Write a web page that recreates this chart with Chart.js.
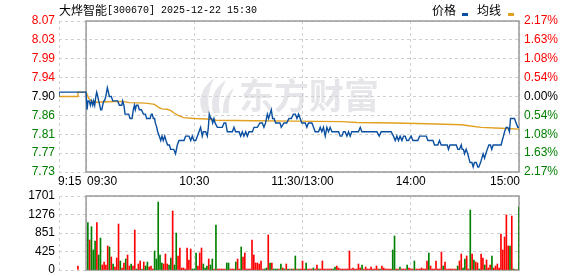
<!DOCTYPE html>
<html>
<head>
<meta charset="utf-8">
<script src="https://cdn.jsdelivr.net/npm/chart.js@4.4.1/dist/chart.umd.min.js"></script>
<style>
  body { margin: 0; background: #fff; }
  #wrap { position: relative; width: 578px; height: 276px; overflow: hidden; }
  canvas { position: absolute; left: 0; }
</style>
</head>
<body>
<div id="wrap">
  <canvas id="price-chart" width="578" height="190" style="top:0"></canvas>
  <canvas id="volume-chart" width="578" height="110" style="top:176px"></canvas>
</div>
<script>
// ---- data ----
const stockName = "大烨智能"
const stockInfo = "[300670] 2025-12-22 15:30"
const legendLabels = ["价格", "均线"]
const watermarkText = "东方财富"

const prevClose = 7.90
const priceMin = 7.7286
const priceMax = 8.0714
// top to bottom, as printed
const priceTickLabels = ["8.07", "8.03", "7.99", "7.94", "7.90", "7.86", "7.81", "7.77", "7.73"]
const pctTickLabels = ["2.17%", "1.63%", "1.08%", "0.54%", "0.00%", "0.54%", "1.08%", "1.63%", "2.17%"]

// minutes from 09:30 (the lunch break is squeezed out, 11:30 == 13:00 == 120)
const timeTicks = [-15, 0, 60, 120, 180, 240]
const timeLabels = ["9:15", "09:30", "10:30", "11:30/13:00", "14:00", "15:00"]

const volMax = 1701
const volTickLabels = ["0", "425", "851", "1276", "1701"]

const priceMinutes = [
  -15, -15, 0, 0.55, 1.1, 1.8, 2.4, 3, 3.7, 4.2, 4.8, 5.4, 5.9, 6.5, 7, 7.6, 8.1, 8.7, 9.2, 9.8,
  10.3, 10.9, 11.4, 11.8, 12.4, 12.9, 14, 14.8, 17.5, 18.5, 19.8, 20.3, 21, 21.6, 23.6, 24.4, 25.5, 26.2, 26.8, 27.3,
  27.9, 28.8, 29.5, 30.7, 31.8, 32.9, 33.6, 35.5, 36.2, 36.7, 37.3, 38, 38.4, 39.2, 39.7, 40.6, 41.4, 42.1, 42.8, 43.6,
  44.3, 45.2, 46.2, 46.9, 48.6, 49.6, 50.6, 51.5, 54.3, 55.2, 57.1, 58, 58.9, 59.8, 60.8, 61.7, 62.6, 63.5, 64.4, 65,
  66.3, 67.2, 67.8, 68.3, 69.1, 69.6, 70.2, 70.9, 71.5, 72, 72.8, 75.5, 76.5, 77.4, 78.3, 81.1, 82, 82.9, 84.8, 85.7,
  86.6, 87.5, 88.5, 89.4, 90.3, 92.2, 93.1, 94.9, 96.4, 97.7, 98.6, 99.5, 100.5, 101.2, 101.9, 102.7, 103.4, 104.2, 105.1, 107.5,
  108.2, 109.7, 111.2, 112.5, 113.8, 114.9, 116, 116.9, 117.8, 118.7, 119.6, 121.5, 122.4, 123.3, 125.2, 126.1, 127, 128.9, 129.8, 130.7,
  131.6, 132.6, 133.5, 134.4, 135.3, 136.3, 140, 140.9, 141.8, 142.7, 143.6, 144.6, 145.5, 146.4, 147.3, 151, 152, 152.9, 161.2, 162.5,
  163.6, 169.1, 170.4, 171.4, 172.3, 173.2, 174.1, 175.1, 176, 176.9, 177.8, 178.7, 180.2, 181.2, 183.9, 184.9, 188.6, 189.5, 192.3, 193.2,
  195, 195.9, 196.9, 200.2, 200.9, 201.7, 205.2, 206.1, 207, 208, 208.5, 209.2, 209.8, 210.7, 211.6, 212.2, 212.9, 213.9, 214.6, 215.3,
  216.3, 217.2, 217.7, 218.7, 219.4, 220.1, 220.9, 221.6, 222.4, 223.3, 224.2, 224.9, 225.7, 230.1, 230.7, 231.4, 232, 232.9, 233.8, 234.7,
  235.3, 237.5, 238.4, 239.3, 240
]
const priceValues = [
  7.90, 7.91, 7.91, 7.87, 7.89, 7.89, 7.88, 7.89, 7.88, 7.89, 7.88, 7.90, 7.91, 7.90, 7.89, 7.88, 7.87, 7.87, 7.88, 7.89,
  7.89, 7.90, 7.91, 7.92, 7.91, 7.90, 7.90, 7.89, 7.89, 7.88, 7.88, 7.89, 7.88, 7.86, 7.86, 7.85, 7.85, 7.87, 7.88, 7.87,
  7.88, 7.88, 7.87, 7.87, 7.86, 7.86, 7.85, 7.85, 7.86, 7.86, 7.85, 7.85, 7.84, 7.83, 7.82, 7.81, 7.80, 7.81, 7.80, 7.81,
  7.80, 7.79, 7.79, 7.78, 7.78, 7.77, 7.79, 7.80, 7.80, 7.81, 7.81, 7.80, 7.81, 7.80, 7.80, 7.81, 7.82, 7.83, 7.81, 7.82,
  7.82, 7.81, 7.83, 7.86, 7.85, 7.85, 7.84, 7.85, 7.84, 7.84, 7.83, 7.83, 7.84, 7.84, 7.82, 7.82, 7.83, 7.82, 7.82, 7.81,
  7.82, 7.81, 7.82, 7.81, 7.82, 7.82, 7.83, 7.83, 7.84, 7.84, 7.83, 7.84, 7.86, 7.85, 7.86, 7.87, 7.85, 7.85, 7.84, 7.84,
  7.83, 7.84, 7.84, 7.85, 7.85, 7.86, 7.86, 7.85, 7.86, 7.85, 7.84, 7.84, 7.83, 7.84, 7.84, 7.83, 7.82, 7.82, 7.83, 7.82,
  7.83, 7.81, 7.83, 7.82, 7.83, 7.82, 7.82, 7.81, 7.81, 7.82, 7.82, 7.81, 7.82, 7.81, 7.82, 7.82, 7.83, 7.82, 7.82, 7.81,
  7.82, 7.82, 7.81, 7.80, 7.81, 7.80, 7.81, 7.80, 7.81, 7.81, 7.80, 7.80, 7.81, 7.80, 7.80, 7.81, 7.81, 7.80, 7.80, 7.79,
  7.79, 7.80, 7.79, 7.79, 7.78, 7.79, 7.79, 7.78, 7.78, 7.79, 7.78, 7.78, 7.77, 7.78, 7.77, 7.76, 7.75, 7.75, 7.74, 7.75,
  7.75, 7.74, 7.74, 7.75, 7.76, 7.77, 7.76, 7.77, 7.78, 7.79, 7.79, 7.78, 7.79, 7.79, 7.80, 7.81, 7.82, 7.83, 7.83, 7.82,
  7.85, 7.85, 7.84, 7.83, 7.83
]

const avgMinutes = [-15, -4.6, -4.5, 0, 1.5, 3, 6, 12, 20, 24, 33, 38, 40, 42, 45, 47, 49, 51, 54, 60,
  67, 72, 93, 115, 142, 150, 171, 189, 208, 213, 219, 230, 240]
const avgValues = [7.900, 7.900, 7.910, 7.910, 7.896, 7.890, 7.887, 7.888, 7.889, 7.886, 7.885, 7.882, 7.876, 7.872, 7.871, 7.868, 7.862, 7.857, 7.852, 7.850,
  7.849, 7.846, 7.845, 7.844, 7.843, 7.841, 7.840, 7.838, 7.836, 7.833, 7.830, 7.828, 7.826]

// call auction bar at 9:25
const auctionMinute = -4.5
const auctionVolume = 92
const auctionColor = "r"

// one bar per minute, 09:31 .. 15:00
const volumes = [
  1088, 690, 996, 460, 666, 1088, 345, 735, 115, 184,
  115, 552, 529, 299, 138, 69, 276, 1057, 207, 46,
  161, 253, 345, 92, 138, 92, 919, 23, 138, 207,
  23, 184, 92, 184, 69, 92, 23, 437, 253, 1563,
  345, 161, 138, 368, 138, 115, 276, 1356, 115, 850,
  322, 506, 46, 46, 23, 506, 230, 483, 23, 23,
  391, 92, 391, 506, 138, 46, 92, 253, 115, 253,
  23, 1034, 23, 23, 23, 23, 23, 161, 161, 23,
  23, 23, 184, 253, 23, 529, 299, 391, 23, 23,
  23, 690, 345, 161, 161, 138, 207, 23, 23, 46,
  805, 161, 161, 23, 23, 23, 23, 138, 46, 23,
  138, 23, 23, 23, 23, 322, 23, 23, 23, 207,
  23, 161, 23, 23, 23, 46, 23, 115, 23, 23,
  207, 23, 23, 23, 23, 23, 23, 69, 92, 46,
  23, 23, 23, 23, 23, 437, 23, 46, 23, 23,
  138, 46, 115, 23, 69, 23, 23, 69, 23, 23,
  92, 23, 23, 92, 46, 23, 23, 23, 23, 460,
  781, 23, 23, 69, 23, 23, 23, 115, 46, 23,
  23, 207, 23, 23, 23, 46, 23, 23, 207, 391,
  92, 23, 23, 207, 23, 23, 414, 92, 184, 23,
  23, 23, 23, 23, 23, 92, 207, 368, 46, 253,
  322, 23, 1379, 368, 230, 184, 161, 23, 368, 276,
  115, 230, 46, 115, 322, 46, 92, 138, 46, 827,
  460, 758, 1264, 552, 552, 1241, 23, 0, 0, 1448
]
const volumeColors = [
  "g","r","g","g","g","r","g","g","r","r",
  "r","r","g","r","g","r","r","r","g","r",
  "r","g","r","r","g","r","r","g","r","r",
  "g","r","g","g","r","r","r","g","g","g",
  "g","g","r","r","r","g","g","r","g","g",
  "r","r","r","r","r","r","r","r","g","g",
  "g","r","r","r","g","g","g","r","g","g",
  "r","g","r","r","r","r","r","g","g","r",
  "r","r","g","r","r","g","r","r","r","r",
  "r","r","r","r","r","r","r","r","g","g",
  "r","g","r","g","g","g","r","g","r","g",
  "r","g","r","g","r","g","r","g","r","r",
  "r","g","r","r","r","g","r","r","g","r",
  "r","r","r","r","r","r","g","g","r","r",
  "r","r","r","r","r","r","r","r","r","r",
  "r","r","g","r","r","r","r","r","r","r",
  "r","r","g","r","r","r","r","r","r","g",
  "g","r","r","g","r","r","r","g","r","r",
  "r","g","r","r","r","r","r","r","r","g",
  "r","r","r","r","r","r","r","g","r","r",
  "r","r","r","r","r","g","r","r","g","g",
  "r","r","g","r","g","r","r","g","r","r",
  "g","r","r","r","g","r","r","r","r","r",
  "r","r","r","r","g","r","g","r","r","g"
]

// ---- styling ----
const COLORS = {
  price: "#0a4fa0",
  avg: "#e0a020",
  up: "#ff0000",
  down: "#008000",
  flat: "#000000",
  grid: "#d0d0d0",
  frame: "#9a9a9a",
  watermark: "#e6e6ea"
}
const FONT = { family: "'Liberation Sans', Arial, sans-serif", size: 12 }
const LEFT_W = 59
const RIGHT_W = 59

const pricePoints = priceMinutes.map((m, i) => ({ x: m, y: priceValues[i] }))
const avgPoints = avgMinutes.map((m, i) => ({ x: m, y: avgValues[i] }))
const volPoints = [{ x: auctionMinute, y: auctionVolume }].concat(volumes.map((v, i) => ({ x: i + 1, y: v })))
const volBarColors = [auctionColor].concat(volumeColors).map(c => c === "r" ? COLORS.up : COLORS.down)

const priceTicks = priceTickLabels.map((_, i) => priceMin + i * (priceMax - priceMin) / (priceTickLabels.length - 1))
const volTicks = volTickLabels.map((_, i) => i * volMax / (volTickLabels.length - 1))
const mid = (priceTickLabels.length - 1) / 2

const tickColor = (i) => i > mid ? COLORS.up : (i < mid ? COLORS.down : COLORS.flat)

const makeXAxis = () => ({
  type: "linear",
  min: timeTicks[0],
  max: timeTicks[timeTicks.length - 1],
  offset: false,
  afterBuildTicks: s => { s.ticks = timeTicks.map(v => ({ value: v })) },
  afterFit: s => { s.height = 0 },
  ticks: { display: false },
  grid: { color: COLORS.grid, drawTicks: false, offset: false },
  border: { display: false, dash: [3, 3] }
})

// solid box from 09:30 to 15:00
const framePlugin = {
  id: "frame",
  beforeDatasetsDraw(chart) {
    const { ctx, chartArea, scales } = chart
    const x0 = scales.x.getPixelForValue(0)
    const x1 = scales.x.getPixelForValue(240)
    ctx.save()
    ctx.strokeStyle = COLORS.frame
    ctx.lineWidth = 1.5
    ctx.strokeRect(x0, chartArea.top, x1 - x0, chartArea.bottom - chartArea.top)
    ctx.restore()
  }
}

const pricePlugin = {
  id: "priceExtras",
  beforeDraw(chart) {
    const { ctx } = chart
    ctx.save()
    ctx.fillStyle = COLORS.watermark
    // little flame logo
    ctx.beginPath()
    ctx.moveTo(203, 113)
    ctx.quadraticCurveTo(194, 94, 214, 78)
    ctx.quadraticCurveTo(205, 96, 210, 113)
    ctx.closePath()
    ctx.fill()
    ctx.beginPath()
    ctx.moveTo(213, 113)
    ctx.quadraticCurveTo(208, 92, 226, 80)
    ctx.quadraticCurveTo(216, 98, 220, 113)
    ctx.closePath()
    ctx.fill()
    ctx.beginPath()
    ctx.moveTo(223, 113)
    ctx.quadraticCurveTo(222, 97, 234, 88)
    ctx.quadraticCurveTo(227, 101, 229, 113)
    ctx.closePath()
    ctx.fill()
    ctx.font = "bold 35px 'Noto Sans CJK SC'"
    ctx.textBaseline = "middle"
    ctx.fillText(watermarkText, 239, 96)
    ctx.restore()
  },
  afterDraw(chart) {
    const { ctx, scales, chartArea } = chart
    ctx.save()
    ctx.textBaseline = "middle"
    ctx.fillStyle = "#000"
    // title
    ctx.font = "12px 'Noto Sans CJK SC'"
    ctx.fillText(stockName, 59, 10)
    const w = ctx.measureText(stockName).width
    ctx.font = "10px 'Liberation Mono', monospace"
    ctx.fillText(stockInfo, 59 + w, 10)
    // legend
    ctx.font = "12px 'Noto Sans CJK SC'"
    ctx.fillText(legendLabels[0], 432, 10)
    ctx.fillText(legendLabels[1], 477, 10)
    ctx.fillStyle = COLORS.price
    ctx.fillRect(462, 13, 6, 3)
    ctx.fillStyle = COLORS.avg
    ctx.fillRect(508, 13, 6, 3)
    // time labels
    ctx.fillStyle = "#000"
    ctx.font = "12px 'Liberation Sans', Arial, sans-serif"
    const y = chartArea.bottom + 10
    timeTicks.forEach((t, i) => {
      const x = scales.x.getPixelForValue(t)
      if (i === 0) { ctx.textAlign = "left"; ctx.fillText(timeLabels[i], x - 1, y) }
      else if (i === 1) { ctx.textAlign = "left"; ctx.fillText(timeLabels[i], x + 1, y) }
      else if (i === timeTicks.length - 1) { ctx.textAlign = "right"; ctx.fillText(timeLabels[i], x + 1, y) }
      else { ctx.textAlign = "center"; ctx.fillText(timeLabels[i], x, y) }
    })
    ctx.restore()
  }
}

const priceChart = new Chart(document.getElementById("price-chart"), {
  type: "line",
  data: {
    datasets: [
      { label: legendLabels[0], data: pricePoints, borderColor: COLORS.price, borderWidth: 1.4, pointRadius: 0, tension: 0 },
      { label: legendLabels[1], data: avgPoints, borderColor: COLORS.avg, borderWidth: 1.4, pointRadius: 0, tension: 0 }
    ]
  },
  options: {
    responsive: false,
    animation: false,
    devicePixelRatio: 1,
    layout: { padding: { top: 21, bottom: 18, left: 0, right: 0 } },
    plugins: { legend: { display: false }, tooltip: { enabled: false } },
    scales: {
      x: makeXAxis(),
      y: {
        position: "left",
        min: priceMin,
        max: priceMax,
        afterBuildTicks: s => { s.ticks = priceTicks.map(v => ({ value: v })) },
        afterFit: s => { s.width = LEFT_W },
        ticks: {
          font: FONT,
          padding: 4,
          autoSkip: false,
          color: c => tickColor(c.index),
          callback: (v, i) => priceTickLabels[priceTickLabels.length - 1 - i]
        },
        grid: { color: COLORS.grid, drawTicks: false },
        border: { display: false, dash: [3, 3] }
      },
      y2: {
        position: "right",
        min: priceMin,
        max: priceMax,
        afterBuildTicks: s => { s.ticks = priceTicks.map(v => ({ value: v })) },
        afterFit: s => { s.width = RIGHT_W },
        ticks: {
          font: FONT,
          padding: 5,
          autoSkip: false,
          color: c => tickColor(c.index),
          callback: (v, i) => pctTickLabels[pctTickLabels.length - 1 - i]
        },
        grid: { display: false, drawTicks: false },
        border: { display: false }
      }
    }
  },
  plugins: [pricePlugin, framePlugin]
})

// canvas starts at y=176: plot from 196 to 270 -> padding 20 top, 110-94 = 16 bottom
const volumeChart = new Chart(document.getElementById("volume-chart"), {
  type: "bar",
  data: {
    datasets: [{
      data: volPoints,
      backgroundColor: volBarColors,
      barThickness: 1,
      borderWidth: 0
    }]
  },
  options: {
    responsive: false,
    animation: false,
    devicePixelRatio: 1,
    layout: { padding: { top: 20, bottom: 16, left: 0, right: RIGHT_W } },
    plugins: { legend: { display: false }, tooltip: { enabled: false } },
    scales: {
      x: makeXAxis(),
      y: {
        position: "left",
        min: 0,
        max: volMax,
        afterBuildTicks: s => { s.ticks = volTicks.map(v => ({ value: v })) },
        afterFit: s => { s.width = LEFT_W },
        ticks: {
          font: FONT,
          padding: 4,
          autoSkip: false,
          color: "#000",
          callback: (v, i) => volTickLabels[i]
        },
        grid: { color: COLORS.grid, drawTicks: false },
        border: { display: false, dash: [3, 3] }
      }
    }
  },
  plugins: [framePlugin]
})
</script>
</body>
</html>
